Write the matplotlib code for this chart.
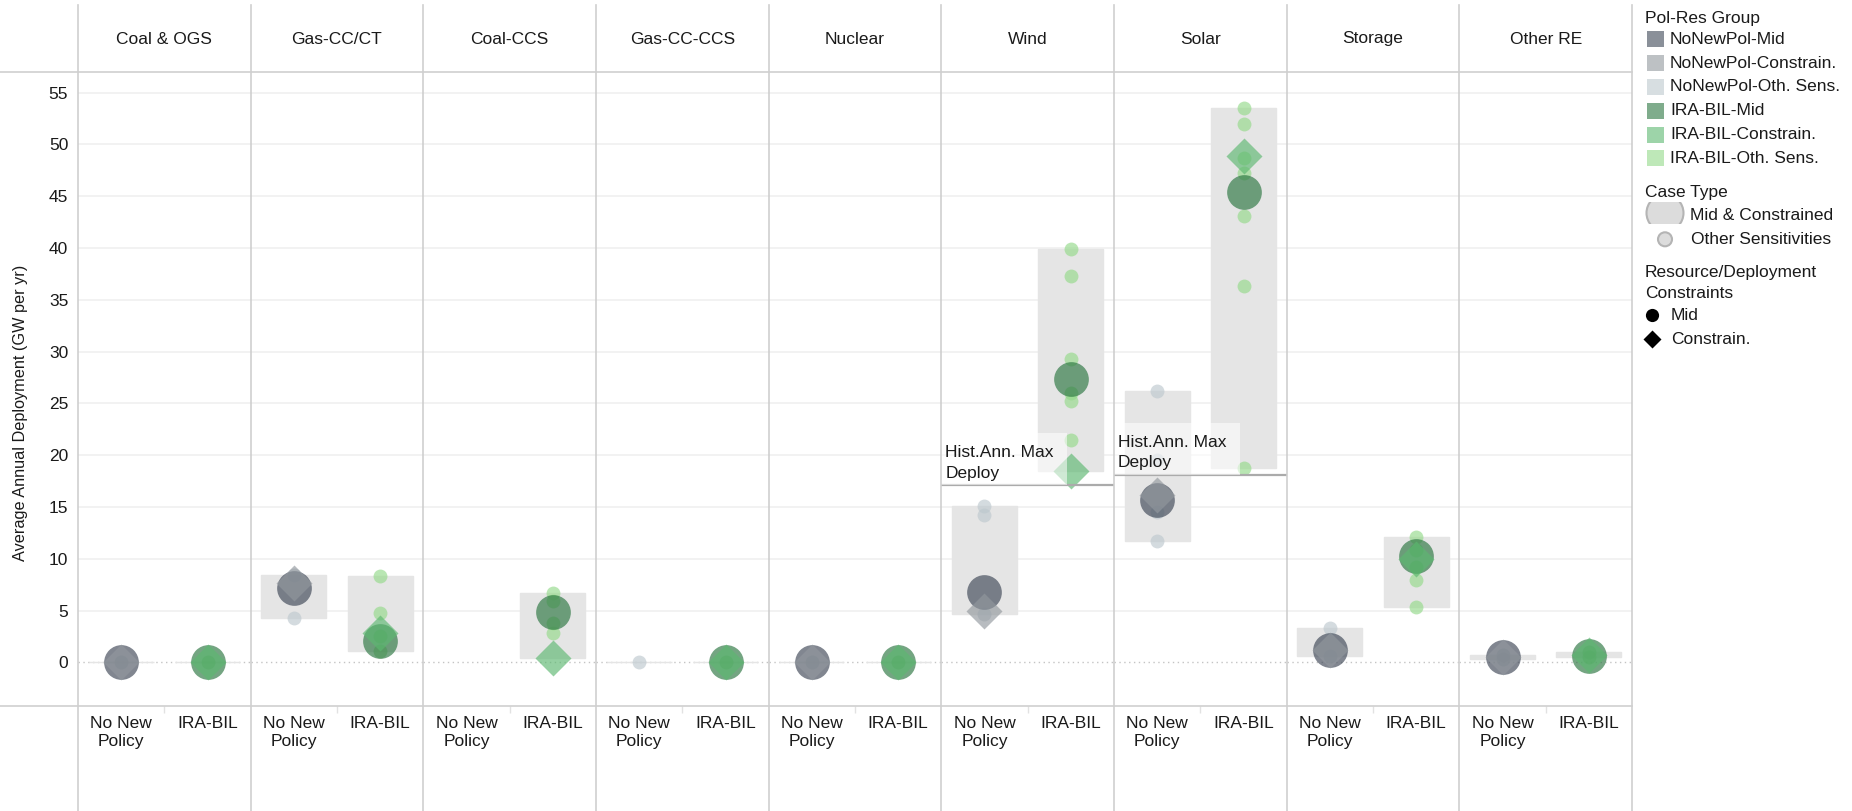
"""
Average annual deployment by technology, No New Policy vs IRA-BIL,
drawn as one small panel per technology with range bars and case markers.
"""
import numpy as np
import matplotlib
matplotlib.use('Agg')
import matplotlib.pyplot as plt
from matplotlib.lines import Line2D
from matplotlib.patches import Rectangle, Circle
from matplotlib.transforms import blended_transform_factory

plt.rcParams['font.family'] = ['Liberation Sans', 'DejaVu Sans']

nan = np.nan

techs = ['Coal & OGS', 'Gas-CC/CT', 'Coal-CCS', 'Gas-CC-CCS', 'Nuclear',
         'Wind', 'Solar', 'Storage', 'Other RE']
policies = ['No New\nPolicy', 'IRA-BIL']

# GW per yr, one entry per technology
nnp_mid = [0.0, 7.15, nan, nan, 0.0, 6.76, 15.67, 1.19, 0.54]
nnp_con = [0.0, 7.63, nan, nan, 0.0, 4.98, 16.2, 1.19, 0.5]
nnp_oth = [[0.0], [8.4, 4.25], [], [0.0], [0.0],
           [15.1, 14.2, 4.65], [26.2, 19.5, 14.5, 11.75],
           [3.3, 0.65], [0.33, 0.7]]

ira_mid = [0.0, 2.06, 4.89, 0.0, 0.0, 27.4, 45.4, 10.26, 0.64]
ira_con = [0.0, 2.86, 0.45, 0.0, 0.0, 18.5, 48.9, 9.94, 0.7]
ira_oth = [[0.0], [8.3, 4.8, 2.5, 1.05], [6.7, 5.9, 3.8, 2.8], [0.0], [0.0],
           [39.9, 37.3, 29.3, 26.0, 25.2, 21.5],
           [53.5, 52.0, 48.7, 47.2, 43.1, 36.3, 18.8],
           [12.1, 10.8, 9.2, 7.95, 5.37], [1.0, 0.55]]

# historical annual max deployment
hist_max = {'Wind': 17.1, 'Solar': 18.1}

group_labels = ['NoNewPol-Mid', 'NoNewPol-Constrain.', 'NoNewPol-Oth. Sens.',
                'IRA-BIL-Mid', 'IRA-BIL-Constrain.', 'IRA-BIL-Oth. Sens.']
group_colors = ['#3d4655', '#92989e', '#bdc8ce',
                '#2a7540', '#5cb870', '#94da8a']
mark_alpha = 0.65

W, H = 1852, 811
x0, x1 = 78, 1632
top, bot = 72, 706
pw = (x1 - x0) / len(techs)
txt = '#1a1a1a'
line_col = '#cfcfcf'


def fx(px):
    return px / W


def fy(py):
    return 1 - py / H


fig = plt.figure(figsize=(W / 100, H / 100), dpi=100)

for i, tech in enumerate(techs):
    ax = fig.add_axes([fx(x0 + i * pw), fy(bot), fx(pw), (bot - top) / H])
    ax.set_xlim(-0.5, 1.5)
    ax.set_ylim(-4.22, 57.0)
    ax.patch.set_alpha(0)
    for s in ax.spines.values():
        s.set_visible(False)

    for v in range(5, 60, 5):
        ax.axhline(v, color='#f0f0f0', lw=1.2, zorder=0)
    ax.axhline(0, color='#c4c4c4', lw=1, ls=(0, (1, 2.5)), zorder=0.5)

    groups = [(nnp_mid[i], nnp_con[i], nnp_oth[i], group_colors[:3]),
              (ira_mid[i], ira_con[i], ira_oth[i], group_colors[3:])]
    for j, (mid, con, oth, cols) in enumerate(groups):
        vals = [v for v in [mid, con] + oth if not np.isnan(v)]
        if not vals:
            continue
        lo, hi = min(vals), max(vals)
        ax.bar(j, hi - lo, bottom=lo, width=0.75, color='#e5e5e5',
               edgecolor='#e5e5e5', lw=1, zorder=1)
        ax.plot([j] * len(oth), oth, 'o', ms=10, color=cols[2],
                alpha=mark_alpha, mec='none', zorder=2)
        ax.plot(j, mid, 'o', ms=25, color=cols[0], alpha=mark_alpha,
                mec='none', zorder=3)
        ax.plot(j, con, 'D', ms=18.3, color=cols[1], alpha=mark_alpha,
                mec='none', zorder=4)

    if tech in hist_max:
        y = hist_max[tech]
        trans = blended_transform_factory(ax.transAxes, ax.transData)
        ax.axhline(y, color='#ababab', lw=1.6, zorder=4.5)
        ax.add_patch(Rectangle((0, y), 0.73, 5.05, transform=trans,
                               facecolor='white', alpha=0.55,
                               edgecolor='none', zorder=5))
        ax.text(0.023, y + 0.45, 'Hist.Ann. Max\nDeploy', transform=trans,
                ha='left', va='bottom', linespacing=1.45, fontsize=12.5,
                color=txt, zorder=6)

    ax.set_xticks([0, 1], policies)
    ax.set_xticks([0.5], minor=True)
    ax.tick_params(axis='x', which='major', length=0, pad=7,
                   labelsize=12.5, labelcolor=txt)
    ax.tick_params(axis='x', which='minor', length=5, width=1,
                   color='#e2e2e2')
    for lab in ax.get_xticklabels():
        lab.set_linespacing(1.3)
    if i == 0:
        ax.set_yticks(range(0, 60, 5))
        ax.tick_params(axis='y', length=0, pad=7, labelsize=12.5,
                       labelcolor=txt)
    else:
        ax.set_yticks([])

    fig.text(fx(x0 + (i + 0.5) * pw), fy(39), tech, ha='center',
             va='center', fontsize=12.5, color=txt)

# panel frame lines
for k in range(len(techs) + 1):
    fig.add_artist(Line2D([fx(x0 + k * pw)] * 2, [fy(5), fy(H)],
                          color=line_col, lw=1.2))
for py in (top, bot):
    fig.add_artist(Line2D([0, fx(x1)], [fy(py)] * 2, color=line_col, lw=1.2))

fig.text(fx(21), fy(413), 'Average Annual Deployment (GW per yr)',
         rotation=90, ha='center', va='center', fontsize=11.7, color=txt)

# legend column, laid out in pixel units
lax = fig.add_axes([fx(x1), 0, fx(W - x1), 1])
lax.set_xlim(x1, W)
lax.set_ylim(H, 0)
lax.axis('off')

lax.text(1645, 18, 'Pol-Res Group', va='center', fontsize=12.5, color=txt)
for k, (lab, col) in enumerate(zip(group_labels, group_colors)):
    y = 39.3 + k * 23.8
    lax.add_patch(Rectangle((1647, y - 8), 17, 16, facecolor=col,
                            alpha=0.6, edgecolor='none'))
    lax.text(1670, y, lab, va='center', fontsize=12.5, color=txt)

lax.text(1645, 192.7, 'Case Type', va='center', fontsize=12.5, color=txt)
clip = Rectangle((1640, 201.7), 60, 22.3, transform=lax.transData)
big = Circle((1665, 213), 18.5, facecolor='#dcdcdc', edgecolor='#b4b4b4',
             lw=1.5)
lax.add_patch(big)
big.set_clip_path(clip)
lax.text(1690, 215, 'Mid & Constrained', va='center', fontsize=12.5,
         color=txt)
lax.add_patch(Circle((1665, 239.3), 7, facecolor='#dcdcdc',
                     edgecolor='#b4b4b4', lw=1.5))
lax.text(1691, 239, 'Other Sensitivities', va='center', fontsize=12.5,
         color=txt)

lax.text(1645, 272.7, 'Resource/Deployment', va='center', fontsize=12.5,
         color=txt)
lax.text(1645, 293.3, 'Constraints', va='center', fontsize=12.5, color=txt)
lax.plot(1652, 315, 'o', ms=9.5, color='black', mec='none')
lax.text(1671, 315, 'Mid', va='center', fontsize=12.5, color=txt)
lax.plot(1652, 339.3, 'D', ms=9, color='black', mec='none')
lax.text(1671, 339.3, 'Constrain.', va='center', fontsize=12.5, color=txt)

fig.savefig('out.png', dpi=100)
